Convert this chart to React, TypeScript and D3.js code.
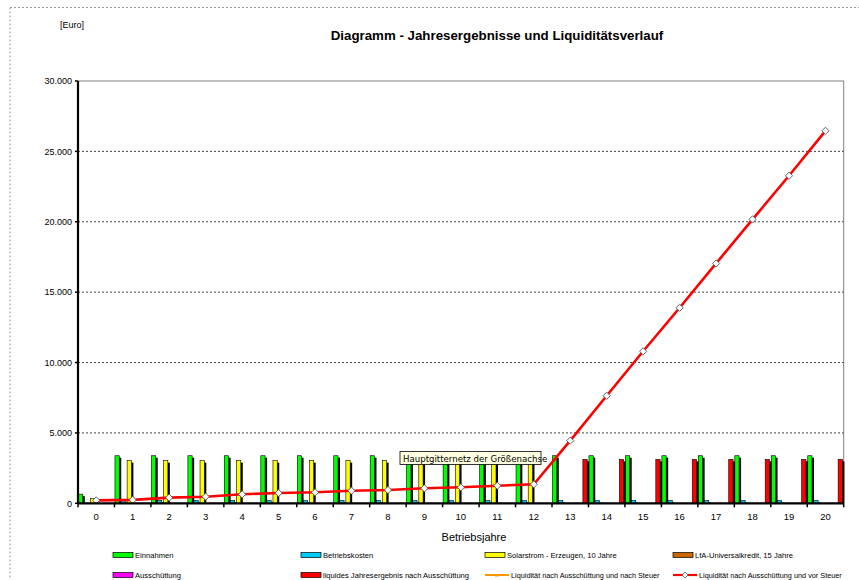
import React from "react";
import * as d3 from "d3";

// Betriebsjahre 0..20
const years = ["0","1","2","3","4","5","6","7","8","9","10","11","12","13","14","15","16","17","18","19","20"];

const einnahmen = [650, 3380, 3380, 3380, 3380, 3380, 3380, 3380, 3380, 3380, 3380, 3380, 3380, 3380, 3380, 3380, 3380, 3380, 3380, 3380, 3380];
const betriebskosten = [0, 200, 200, 200, 200, 200, 200, 200, 200, 200, 200, 200, 200, 200, 200, 200, 200, 200, 200, 200, 200];
const solarstrom = [350, 3030, 3030, 3030, 3030, 3030, 3030, 3030, 3030, 3030, 3030, 3030, 3030, 0, 0, 0, 0, 0, 0, 0, 0];
const lfaKredit = [0, 0, 0, 0, 0, 0, 0, 0, 0, 0, 0, 0, 0, 0, 0, 0, 0, 0, 0, 0, 0];
const ausschuettung = [0, 0, 0, 0, 0, 0, 0, 0, 0, 0, 0, 0, 0, 0, 0, 0, 0, 0, 0, 0, 0];
const liquidesErgebnis = [0, 0, 0, 0, 0, 0, 0, 0, 0, 0, 0, 0, 0, 3120, 3120, 3120, 3120, 3120, 3120, 3120, 3120];
const liqVorSteuer = [210, 240, 400, 470, 640, 730, 780, 895, 945, 1065, 1136, 1250, 1350, 4450, 7640, 10800, 13890, 17040, 20170, 23270, 26460];

const yTicks = [0, 5000, 10000, 15000, 20000, 25000, 30000];

const barSeries = [
  { key: "Einnahmen", values: einnahmen, color: "#00ff00" },
  { key: "Betriebskosten", values: betriebskosten, color: "#00ccff" },
  { key: "Solarstrom - Erzeugen, 10 Jahre", values: solarstrom, color: "#ffff00" },
  { key: "LfA-Universalkredit, 15 Jahre", values: lfaKredit, color: "#cc6600" },
  { key: "Ausschüttung", values: ausschuettung, color: "#ff00ff" },
  { key: "liquides Jahresergebnis nach Ausschüttung", values: liquidesErgebnis, color: "#ff0000" },
];

const font = "'Liberation Sans', Arial, sans-serif";

const fmt = (v: number) => (v === 0 ? "0" : d3.format(",")(v).replace(/,/g, "."));

export default function App() {
  const W = 859;
  const H = 580;
  const m = { left: 78, right: 15.3, top: 81, bottom: 76.7 };

  const x = d3.scaleBand<string>().domain(years).range([m.left, W - m.right]).padding(0);
  const xi = d3.scaleBand<string>().domain(barSeries.map((s) => s.key)).range([0, x.bandwidth()]).padding(0);
  const y = d3.scaleLinear().domain([0, 30000]).range([H - m.bottom, m.top]);

  const line = d3
    .line<number>()
    .x((_, i) => x(years[i])! + x.bandwidth() / 2)
    .y((d) => y(d));

  const bw = xi.bandwidth();
  const y0 = y(0);

  // legend layout
  const legendCols = [113, 301, 485, 673];
  const legendRows = [555, 575];

  return (
    <svg width={W} height={H} style={{ position: "absolute", left: 0, top: 0, background: "#fff" }} fontFamily={font}>
      {/* outer dotted frame */}
      <line x1={10} x2={W} y1={7.5} y2={7.5} stroke="#999" strokeDasharray="2,2" />
      <line x1={10} x2={10} y1={7.5} y2={H} stroke="#999" strokeDasharray="2,2" />

      <text x={60} y={28} fontSize={9}>[Euro]</text>
      <text x={497} y={40} fontSize={13.3} fontWeight="bold" textAnchor="middle">
        Diagramm - Jahresergebnisse und Liquiditätsverlauf
      </text>

      {/* plot area border */}
      <rect x={m.left} y={m.top} width={W - m.right - m.left} height={y0 - m.top} fill="none" stroke="#808080" strokeWidth={1} />

      {/* gridlines */}
      {yTicks.filter((t) => t > 0 && t < 30000).map((t) => (
        <line key={t} x1={m.left} x2={W - m.right} y1={y(t)} y2={y(t)} stroke="#444" strokeDasharray="2,2" strokeWidth={1} />
      ))}

      {/* bars */}
      {barSeries.map((s) =>
        s.values.map((v, i) => {
          if (v <= 0) return null;
          const bx = x(years[i])! + xi(s.key)!;
          const by = y(v);
          return (
            <g key={s.key + i}>
              <rect x={bx + bw - 1.5} y={by + 2} width={2.2} height={y0 - by - 2} fill="#000" />
              <rect x={bx + 0.5} y={by} width={bw - 1.8} height={y0 - by} fill={s.color} stroke="#000" strokeWidth={0.6} />
            </g>
          );
        })
      )}

      {/* line */}
      <path d={line(liqVorSteuer) || ""} fill="none" stroke="#ff0000" strokeWidth={2.6} />
      {liqVorSteuer.map((v, i) => {
        const cx = x(years[i])! + x.bandwidth() / 2;
        const cy = y(v);
        const r = 3.6;
        return (
          <path key={i} d={`M${cx},${cy - r}L${cx + r},${cy}L${cx},${cy + r}L${cx - r},${cy}Z`} fill="#fff" stroke="#555" strokeWidth={0.9} />
        );
      })}

      {/* axes */}
      <line x1={m.left} x2={m.left} y1={m.top} y2={y0} stroke="#000" strokeWidth={2.2} />
      <line x1={m.left} x2={W - m.right} y1={y0} y2={y0} stroke="#000" strokeWidth={2.2} />
      {yTicks.map((t) => (
        <g key={t}>
          <line x1={m.left - 3} x2={m.left} y1={y(t)} y2={y(t)} stroke="#000" strokeWidth={1.5} />
          <text x={m.left - 6} y={y(t) + 3.2} fontSize={9} textAnchor="end">{fmt(t)}</text>
        </g>
      ))}
      {years.map((yr) => (
        <g key={yr}>
          <line x1={x(yr)!} x2={x(yr)!} y1={y0} y2={y0 + 4} stroke="#000" strokeWidth={1.5} />
          <text x={x(yr)! + x.bandwidth() / 2} y={y0 + 17} fontSize={9.5} textAnchor="middle">{yr}</text>
        </g>
      ))}
      <line x1={W - m.right} x2={W - m.right} y1={y0} y2={y0 + 4} stroke="#000" strokeWidth={1.5} />
      <text x={474} y={y0 + 38} fontSize={11} textAnchor="middle">Betriebsjahre</text>

      {/* legend */}
      {barSeries.map((s, k) => {
        const col = k < 4 ? k : k - 4;
        const row = k < 4 ? 0 : 1;
        const lx = legendCols[col];
        const ly = legendRows[row];
        return (
          <g key={s.key}>
            <rect x={lx} y={ly - 2.5} width={20} height={5} fill={s.color} stroke="#000" strokeWidth={0.7} />
            <text x={lx + 22} y={ly + 3} fontSize={7.6}>{s.key}</text>
          </g>
        );
      })}
      <g>
        <line x1={legendCols[2]} x2={legendCols[2] + 24} y1={legendRows[1]} y2={legendRows[1]} stroke="#ff9900" strokeWidth={2} />
        <text x={legendCols[2] + 12} y={legendRows[1] + 3} fontSize={8} textAnchor="middle" fill="#ff9900">×</text>
        <text x={legendCols[2] + 26} y={legendRows[1] + 3} fontSize={7.3}>Liquidität nach Ausschüttung und nach Steuer</text>
      </g>
      <g>
        <line x1={legendCols[3]} x2={legendCols[3] + 24} y1={legendRows[1]} y2={legendRows[1]} stroke="#ff0000" strokeWidth={2.2} />
        <path d={`M${legendCols[3] + 12},${legendRows[1] - 3}l3,3l-3,3l-3,-3Z`} fill="#fff" stroke="#555" strokeWidth={0.8} />
        <text x={legendCols[3] + 26} y={legendRows[1] + 3} fontSize={7.3}>Liquidität nach Ausschüttung und vor Steuer</text>
      </g>

      {/* tooltip */}
      <g>
        <rect x={400} y={451.5} width={141} height={13} fill="#ffffe1" stroke="#000" strokeWidth={0.8} />
        <text x={403} y={461.5} fontSize={8.6} fontFamily="'DejaVu Sans', Tahoma, sans-serif">Hauptgitternetz der Größenachse</text>
      </g>
    </svg>
  );
}
